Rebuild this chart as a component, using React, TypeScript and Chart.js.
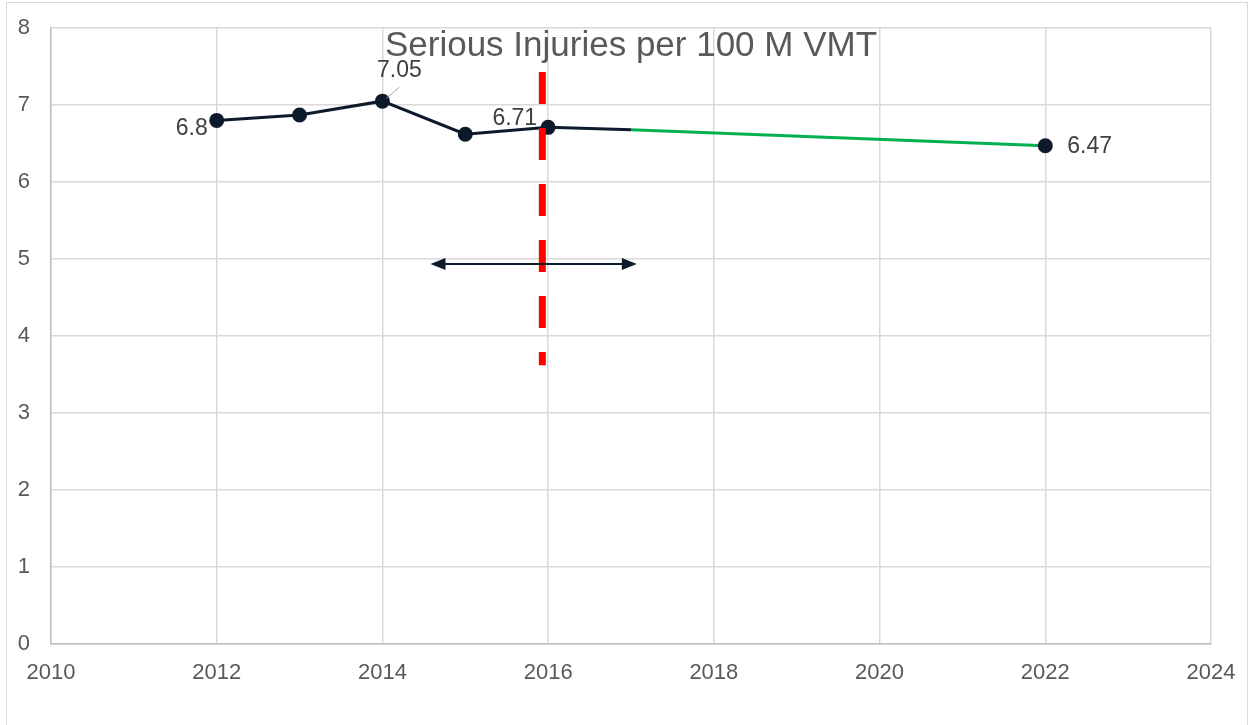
import React, { useEffect, useRef } from "react";
import { Chart, registerables } from "chart.js";

Chart.register(...registerables);

const TITLE = "Serious Injuries per 100 M VMT";
const years = [2012, 2013, 2014, 2015, 2016, 2017];
const values = [6.8, 6.87, 7.05, 6.62, 6.71, 6.68];
const projYears = [2017, 2022];
const projValues = [6.68, 6.47];
const xTicks = [2010, 2012, 2014, 2016, 2018, 2020, 2022, 2024];
const yTicks = [0, 1, 2, 3, 4, 5, 6, 7, 8];
const markerLine = { x: 2015.93, yTop: 7.43, yBottom: 3.62 };
const arrow = { from: 2014.58, to: 2017.07, y: 4.935 };
const labels = [
  { x: 2012, y: 6.8, text: "6.8" },
  { x: 2014, y: 7.05, text: "7.05" },
  { x: 2016, y: 6.71, text: "6.71" },
  { x: 2022, y: 6.47, text: "6.47" },
];

const NAVY = "#0c1a2b";
const GREEN = "#00b050";
const FONT = "'Liberation Sans', Arial, sans-serif";

export default function App() {
  const ref = useRef<HTMLCanvasElement>(null);
  useEffect(() => {
    document.body.style.margin = "0";
    const overlay = {
      id: "overlay",
      beforeDraw(chart: any) {
        const c = chart.ctx;
        c.save();
        c.fillStyle = "#ffffff";
        c.fillRect(0, 0, chart.width, chart.height);
        c.strokeStyle = "#d9d9d9";
        c.lineWidth = 1;
        c.strokeRect(6.5, 2.5, 1241, 730);
        c.restore();
      },
      afterDatasetsDraw(chart: any) {
        const c = chart.ctx;
        const xs = chart.scales.x;
        const ys = chart.scales.y;
        c.save();
        // arrow
        const ax1 = xs.getPixelForValue(arrow.from);
        const ax2 = xs.getPixelForValue(arrow.to);
        const ay = ys.getPixelForValue(arrow.y);
        c.strokeStyle = NAVY;
        c.fillStyle = NAVY;
        c.lineWidth = 2;
        c.beginPath();
        c.moveTo(ax1 + 8, ay);
        c.lineTo(ax2 - 8, ay);
        c.stroke();
        c.beginPath();
        c.moveTo(ax1, ay);
        c.lineTo(ax1 + 15, ay - 6);
        c.lineTo(ax1 + 15, ay + 6);
        c.closePath();
        c.fill();
        c.beginPath();
        c.moveTo(ax2, ay);
        c.lineTo(ax2 - 15, ay - 6);
        c.lineTo(ax2 - 15, ay + 6);
        c.closePath();
        c.fill();
        // title
        c.fillStyle = "#595959";
        c.font = `35px ${FONT}`;
        c.textAlign = "center";
        c.textBaseline = "middle";
        c.fillText(TITLE, 631, 46);
        // data labels
        c.font = `23px ${FONT}`;
        c.fillStyle = "#404040";
        labels.forEach((l) => {
          const px = xs.getPixelForValue(l.x);
          const py = ys.getPixelForValue(l.y);
          if (l.text === "6.8") {
            c.textAlign = "right";
            c.fillText(l.text, px - 9, py + 8);
          } else if (l.text === "7.05") {
            c.textAlign = "center";
            c.fillText(l.text, px + 17, py - 30);
            c.strokeStyle = "#a6a6a6";
            c.lineWidth = 1;
            c.beginPath();
            c.moveTo(px + 4, py - 3);
            c.lineTo(px + 17, py - 14);
            c.stroke();
          } else if (l.text === "6.71") {
            c.textAlign = "right";
            c.fillText(l.text, px - 11, py - 9);
          } else {
            c.textAlign = "left";
            c.fillText(l.text, px + 22, py + 1);
          }
        });
        c.restore();
      },
    };
    const chart = new Chart(ref.current!, {
      type: "line",
      data: {
        datasets: [
          {
            data: years.map((x, i) => ({ x, y: values[i] })),
            borderColor: NAVY,
            backgroundColor: NAVY,
            borderWidth: 3,
            pointRadius: years.map((_, i) => (i < years.length - 1 ? 6 : 0)),
            pointBackgroundColor: NAVY,
            pointBorderColor: NAVY,
            tension: 0,
            order: 2,
          },
          {
            data: projYears.map((x, i) => ({ x, y: projValues[i] })),
            borderColor: GREEN,
            backgroundColor: NAVY,
            borderWidth: 3,
            pointRadius: [0, 6],
            pointBackgroundColor: NAVY,
            pointBorderColor: NAVY,
            tension: 0,
            order: 1,
          },
          {
            data: [
              { x: markerLine.x, y: markerLine.yTop },
              { x: markerLine.x, y: markerLine.yBottom },
            ],
            borderColor: "#ff0000",
            borderWidth: 7,
            borderDash: [32, 24],
            borderCapStyle: "butt",
            pointRadius: 0,
            order: 0,
          },
        ],
      },
      options: {
        responsive: false,
        animation: false,
        events: [],
        layout: { padding: { top: 28, right: 42, left: 0, bottom: 0 } },
        plugins: { legend: { display: false }, tooltip: { enabled: false }, title: { display: false } },
        scales: {
          x: {
            type: "linear",
            min: 2010,
            max: 2024,
            afterBuildTicks: (s: any) => {
              s.ticks = xTicks.map((v) => ({ value: v }));
            },
            afterFit: (s: any) => {
              s.height = 81;
              s.paddingLeft = 0;
              s.paddingRight = 0;
            },
            grid: { color: "#d9d9d9", drawTicks: false, lineWidth: 1.5 },
            border: { color: "#bfbfbf", width: 1.5 },
            ticks: {
              padding: 16,
              color: "#595959",
              font: { family: FONT, size: 22 },
              callback: (v: any) => String(v),
            },
          },
          y: {
            min: 0,
            max: 8,
            afterBuildTicks: (s: any) => {
              s.ticks = yTicks.map((v) => ({ value: v }));
            },
            afterFit: (s: any) => {
              s.width = 51;
              s.paddingTop = 0;
              s.paddingBottom = 0;
            },
            grid: { color: "#d9d9d9", drawTicks: false, lineWidth: 1.5 },
            border: { color: "#bfbfbf", width: 1.5 },
            ticks: {
              padding: 21,
              color: "#595959",
              font: { family: FONT, size: 22 },
              callback: (v: any) => String(v),
            },
          },
        },
      },
      plugins: [overlay],
    });
    return () => chart.destroy();
  }, []);
  return (
    <div style={{ position: "absolute", left: 0, top: 0, width: 1253, height: 725 }}>
      <canvas ref={ref} width={1253} height={725} style={{ width: 1253, height: 725, display: "block" }} />
    </div>
  );
}
